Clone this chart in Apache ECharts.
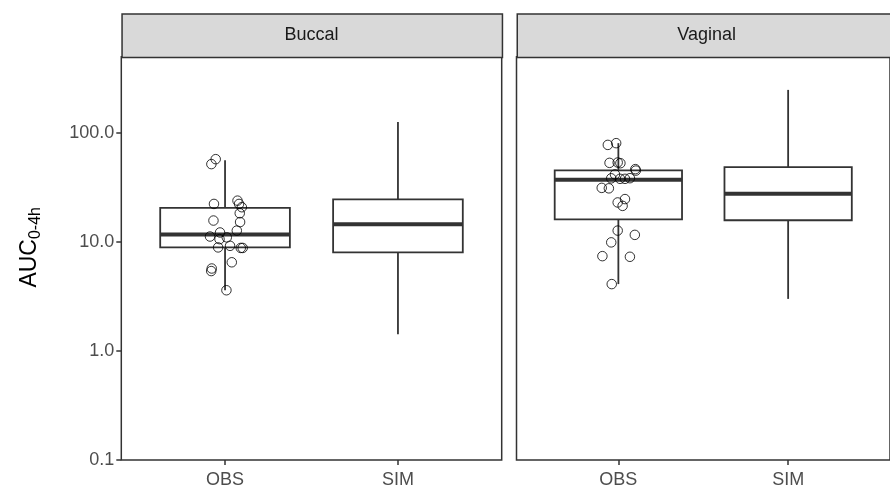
<!DOCTYPE html>
<html><head><meta charset="utf-8">
<script src="https://cdn.jsdelivr.net/npm/echarts@6/dist/echarts.min.js"></script>
<style>html,body{margin:0;padding:0;background:#fff}#c{width:890px;height:498px}</style>
</head><body><div id="c"></div>
<script>
const panels = ['Buccal', 'Vaginal'];
const categories = ['OBS', 'SIM'];
const yTicks = [0.1, 1, 10, 100];
// box stats per category: [min, q1, median, q3, max]
const buccalBox = [[3.6, 8.9, 11.7, 20.5, 56], [1.42, 8.0, 14.5, 24.5, 126]];
const vaginalBox = [[4.1, 16.1, 37.2, 45.3, 80.5], [3.0, 15.8, 27.7, 48.5, 248]];
// observed points (OBS) and their horizontal jitter (category units)
const buccalObs = [57.4, 51.7, 22.3, 23.9, 22.3, 20.8, 18.3, 15.7, 15.2, 12.7, 12.2, 11.2, 10.6, 11.0, 8.9, 9.2, 8.8, 8.8, 6.5, 5.7, 5.4, 3.6];
const buccalJitter = [-0.054, -0.079, -0.064, 0.072, 0.081, 0.097, 0.085, -0.067, 0.087, 0.068, -0.029, -0.087, -0.032, 0.010, -0.040, 0.029, 0.091, 0.102, 0.039, -0.077, -0.080, 0.008];
const vaginalObs = [77.6, 80.5, 53.1, 53.5, 52.7, 46.5, 45.1, 41.6, 38.3, 37.9, 37.9, 38.4, 31.3, 31.0, 24.7, 23.0, 21.4, 12.7, 11.6, 9.9, 7.4, 7.3, 4.1];
const vaginalJitter = [-0.062, -0.013, -0.052, -0.004, 0.012, 0.100, 0.103, -0.020, -0.042, 0.010, 0.039, 0.068, -0.098, -0.056, 0.039, -0.004, 0.025, -0.004, 0.097, -0.042, -0.094, 0.068, -0.039];

const FONT = '"Liberation Sans", Arial, sans-serif';
const DARK = '#333333';
const PANEL_TOP = 56.7, PANEL_H = 403.2, PANEL_W = 380.4;
const PANEL_LEFT = [121.3, 516.5];
const STRIP_TOP = 13.3;
const TXT = 18;

const boxes = [buccalBox, vaginalBox];
const obs = [buccalObs, vaginalObs];
const jit = [buccalJitter, vaginalJitter];

function renderBox(params, api) {
  const x = api.value(0);
  const w = api.size([1, 0], [x, 1])[0] * 0.75;
  const hw = w / 2;
  const pMin = api.coord([x, api.value(1)]);
  const pQ1 = api.coord([x, api.value(2)]);
  const pMed = api.coord([x, api.value(3)]);
  const pQ3 = api.coord([x, api.value(4)]);
  const pMax = api.coord([x, api.value(5)]);
  const cx = pMed[0];
  const lw = 1.8;
  return {
    type: 'group',
    children: [
      {type: 'line', shape: {x1: cx, y1: pMax[1], x2: cx, y2: pQ3[1]}, style: {stroke: DARK, lineWidth: lw}},
      {type: 'line', shape: {x1: cx, y1: pQ1[1], x2: cx, y2: pMin[1]}, style: {stroke: DARK, lineWidth: lw}},
      {type: 'rect', shape: {x: cx - hw, y: pQ3[1], width: w, height: pQ1[1] - pQ3[1]}, style: {fill: '#ffffff', stroke: DARK, lineWidth: lw}},
      {type: 'line', shape: {x1: cx - hw, y1: pMed[1], x2: cx + hw, y2: pMed[1]}, style: {stroke: DARK, lineWidth: 4}}
    ]
  };
}

const grids = [], xAxes = [], yAxes = [], series = [], graphics = [];
panels.forEach((name, i) => {
  grids.push({left: PANEL_LEFT[i], top: PANEL_TOP, width: PANEL_W, height: PANEL_H,
    show: true, borderColor: DARK, borderWidth: 1.5, backgroundColor: 'transparent', containLabel: false});
  xAxes.push({type: 'value', gridIndex: i, min: 0.4, max: 2.6,
    axisLine: {show: false}, splitLine: {show: false},
    axisTick: {show: true, length: 5, customValues: [1, 2], lineStyle: {color: DARK, width: 1.5}},
    axisLabel: {customValues: [1, 2], formatter: v => categories[Math.round(v) - 1] || '',
      color: '#4D4D4D', fontSize: TXT, fontFamily: FONT, margin: 11}});
  yAxes.push({type: 'log', logBase: 10, gridIndex: i, min: 0.1, max: 500,
    axisLine: {show: false}, splitLine: {show: false}, minorTick: {show: false},
    axisTick: {show: i === 0, length: 5, customValues: yTicks, lineStyle: {color: DARK, width: 1.5}},
    axisLabel: {show: i === 0, customValues: yTicks, formatter: v => Number(v).toFixed(1),
      color: '#4D4D4D', fontSize: TXT, fontFamily: FONT, margin: 7},
    name: i === 0 ? '{a|AUC}{b|0-4h}' : '', nameLocation: 'middle', nameRotate: 90, nameGap: 78,
    nameTextStyle: {color: '#000', fontFamily: FONT, padding: [0, 0, 0, 22], rich: {
      a: {fontSize: 23, fontFamily: FONT, color: '#000'},
      b: {fontSize: 16, fontFamily: FONT, color: '#000', padding: [12, 0, 0, 0]}}}});
  series.push({type: 'custom', xAxisIndex: i, yAxisIndex: i, renderItem: renderBox, z: 2,
    encode: {x: 0, y: [1, 2, 3, 4, 5]},
    data: boxes[i].map((b, k) => [k + 1].concat(b)), silent: true});
  series.push({type: 'scatter', xAxisIndex: i, yAxisIndex: i, z: 5, symbol: 'circle', symbolSize: 9.5,
    itemStyle: {color: 'rgba(0,0,0,0)', borderColor: '#000', borderWidth: 1},
    data: obs[i].map((v, k) => [1 + jit[i][k], v]), silent: true});
  graphics.push({type: 'rect', left: PANEL_LEFT[i], top: STRIP_TOP,
    shape: {x: 0, y: 0, width: PANEL_W, height: PANEL_TOP - STRIP_TOP},
    style: {fill: '#D9D9D9', stroke: DARK, lineWidth: 1.5}, z: 10});
  graphics.push({type: 'text', x: PANEL_LEFT[i] + PANEL_W / 2, y: (STRIP_TOP + PANEL_TOP) / 2,
    style: {text: name, fill: '#1A1A1A', font: TXT + 'px ' + FONT, textAlign: 'center', textVerticalAlign: 'middle'}, z: 11});
});

const chart = echarts.init(document.getElementById('c'), null, {renderer: 'canvas'});
chart.setOption({
  animation: false,
  backgroundColor: '#ffffff',
  grid: grids, xAxis: xAxes, yAxis: yAxes, series: series, graphic: graphics
});
</script></body></html>
